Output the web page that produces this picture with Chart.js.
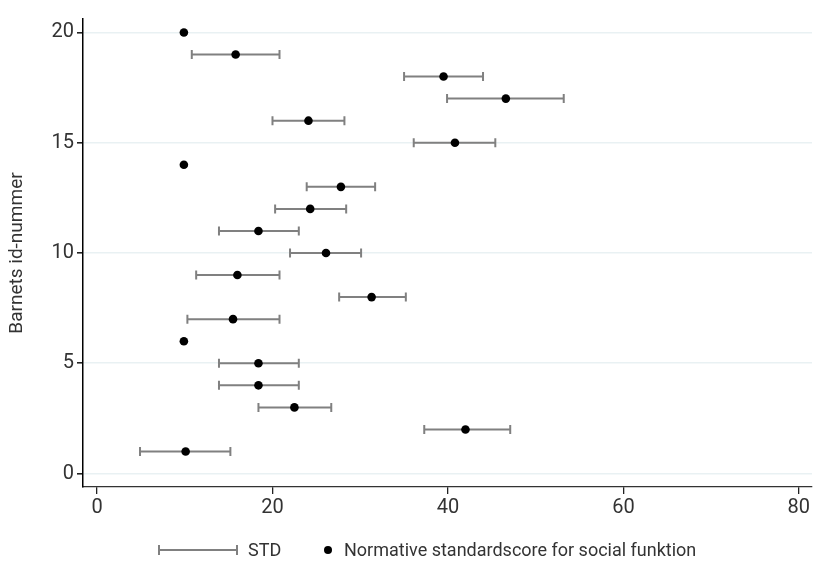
<!DOCTYPE html>
<html>
<head>
<meta charset="utf-8">
<script src="https://cdn.jsdelivr.net/npm/chart.js@4.4.1/dist/chart.umd.min.js"></script>
<style>
  html, body { margin: 0; padding: 0; background: #fff; }
  #wrap { position: relative; width: 826px; height: 566px; }
  #legend { position: absolute; left: 0; top: 539px; width: 826px; height: 22px;
            font-family: Roboto, "DejaVu Sans", sans-serif; font-size: 18px; color: #333; }
  #legend .t { position: absolute; top: 0; line-height: 22px; white-space: nowrap; }
  #legend .bar { position: absolute; left: 158px; top: 10px; width: 80px; height: 2px; background: #808080; }
  #legend .bar::before, #legend .bar::after { content: ""; position: absolute; top: -4px; width: 2px; height: 10px; background: #808080; }
  #legend .bar::before { left: 0; }
  #legend .bar::after { right: 0; }
  #legend .dot { position: absolute; left: 324px; top: 7px; width: 8px; height: 8px; border-radius: 50%; background: #000; }
</style>
</head>
<body>
<div id="wrap">
  <canvas id="chart" width="826" height="566"></canvas>
  <div id="legend">
    <span class="bar"></span><span class="t" style="left:248px">STD</span>
    <span class="dot"></span><span class="t" style="left:344px">Normative standardscore for social funktion</span>
  </div>
</div>
<script>
// barnets id-nummer (y) og score (x)
const ids = [20, 19, 18, 17, 16, 15, 14, 13, 12, 11, 10, 9, 8, 7, 6, 5, 4, 3, 2, 1];
const scores = [9.9, 15.8, 39.5, 46.6, 24.1, 40.8, 9.9, 27.8, 24.3, 18.4, 26.1, 16.0, 31.3, 15.5, 9.9, 18.4, 18.4, 22.5, 42.0, 10.1];
// STD-interval, null = ingen
const stdLow = [null, 10.8, 35.0, 39.9, 20.0, 36.1, null, 23.9, 20.3, 13.9, 22.0, 11.3, 27.6, 10.3, null, 13.9, 13.9, 18.4, 37.3, 4.9];
const stdHigh = [null, 20.8, 44.0, 53.2, 28.2, 45.4, null, 31.7, 28.4, 23.0, 30.1, 20.8, 35.2, 20.8, null, 23.0, 23.0, 26.7, 47.1, 15.2];
const xTicks = [0, 20, 40, 60, 80];
const yTicks = [0, 5, 10, 15, 20];

const grey = '#808080'
const textCol = '#333'
const font = "Roboto, 'DejaVu Sans', sans-serif"

// tegner STD-linjer med endestreger
const stdBars = {
    id: 'stdBars',
    beforeDatasetsDraw(chart) {
        const ctx = chart.ctx
        const xs = chart.scales.x
        const ys = chart.scales.y
        ctx.save()
        ctx.strokeStyle = grey
        ctx.lineWidth = 2
        ids.forEach((id, i) => {
            if (stdLow[i] === null) return
            const y = ys.getPixelForValue(id)
            const x1 = xs.getPixelForValue(stdLow[i])
            const x2 = xs.getPixelForValue(stdHigh[i])
            ctx.beginPath()
            ctx.moveTo(x1, y); ctx.lineTo(x2, y)
            ctx.moveTo(x1, y - 4.5); ctx.lineTo(x1, y + 4.5)
            ctx.moveTo(x2, y - 4.5); ctx.lineTo(x2, y + 4.5)
            ctx.stroke()
        })
        ctx.restore()
    }
}

const ctx = document.getElementById('chart').getContext('2d')
new Chart(ctx, {
    type: 'scatter',
    data: {
        datasets: [{
            label: 'Normative standardscore for social funktion',
            data: ids.map((id, i) => ({ x: scores[i], y: id })),
            backgroundColor: '#000',
            borderColor: '#000',
            borderWidth: 0,
            pointRadius: 4.3,
            pointHoverRadius: 4.3
        }]
    },
    options: {
        responsive: false,
        animation: false,
        layout: { padding: { left: 0, right: 14, top: 19, bottom: 0 } },
        plugins: {
            legend: { display: false },
            tooltip: { enabled: false }
        },
        scales: {
            x: {
                type: 'linear',
                min: -1.6,
                max: 81.5,
                afterBuildTicks: s => { s.ticks = xTicks.map(v => ({ value: v })) },
                afterFit: s => { s.height = 79 },
                grid: { drawOnChartArea: false, tickLength: 7, tickColor: '#222', lineWidth: 1.3 },
                border: { color: '#333', width: 1.3 },
                ticks: { color: textCol, font: { family: font, size: 20 }, padding: 2 }
            },
            y: {
                type: 'linear',
                min: -0.61,
                max: 20.61,
                afterBuildTicks: s => { s.ticks = yTicks.map(v => ({ value: v })) },
                afterFit: s => { s.width = 83 },
                grid: { color: '#e9f1f3', lineWidth: 1.6, tickLength: 6, tickColor: '#222' },
                border: { color: '#000', width: 1.5 },
                ticks: { color: textCol, font: { family: font, size: 20 }, padding: 3 },
                title: {
                    display: true,
                    text: 'Barnets id-nummer',
                    color: textCol,
                    font: { family: font, size: 19 },
                    padding: { top: 6, bottom: 0 }
                }
            }
        }
    },
    plugins: [stdBars]
})
</script>
</body>
</html>
